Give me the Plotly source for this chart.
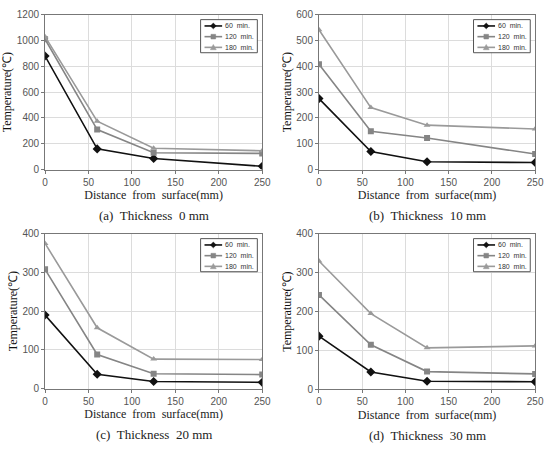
import plotly.graph_objects as go

distance = [0, 60, 125, 250]
series_names = ["60  min.", "120  min.", "180  min."]

a_60 = [880, 160, 85, 25]
a_120 = [1010, 310, 130, 125]
a_180 = [1030, 375, 165, 145]

b_60 = [275, 70, 30, 27]
b_120 = [408, 148, 122, 60]
b_180 = [542, 240, 172, 157]

c_60 = [190, 37, 18, 16]
c_120 = [308, 88, 38, 36]
c_180 = [375, 157, 76, 75]

d_60 = [137, 45, 21, 20]
d_120 = [243, 115, 46, 40]
d_180 = [330, 195, 107, 112]

captions = ["(a)  Thickness  0 mm", "(b)  Thickness  10 mm",
            "(c)  Thickness  20 mm", "(d)  Thickness  30 mm"]
y_ranges = [(0, 1200, 200), (0, 600, 100), (0, 400, 100), (0, 400, 100)]
x_ticks = [0, 50, 100, 150, 200, 250]

panels = [
    (a_60, a_120, a_180),
    (b_60, b_120, b_180),
    (c_60, c_120, c_180),
    (d_60, d_120, d_180),
]

W, H = 551, 450
# plot-area boxes in pixels: left, right, top, bottom
boxes = [(43, 265, 9, 168), (323, 544, 9, 168),
         (43, 265, 234, 393), (323, 544, 234, 394)]

colors = ["#111111", "#858585", "#9a9a9a"]
symbols = ["diamond", "square", "triangle-up"]

serif = "Liberation Serif, Times New Roman, serif"
sans = "Liberation Sans, Arial, sans-serif"


def px(x):
    return x / W


def py(y):
    return 1 - y / H


def marker_path(kind, cx, cy, s):
    if kind == "diamond":
        pts = [(cx, cy - s), (cx + s, cy), (cx, cy + s), (cx - s, cy)]
    elif kind == "square":
        s2 = s * 0.8
        pts = [(cx - s2, cy - s2), (cx + s2, cy - s2), (cx + s2, cy + s2), (cx - s2, cy + s2)]
    else:
        pts = [(cx, cy - s), (cx + s, cy + s * 0.8), (cx - s, cy + s * 0.8)]
    return "M " + " L ".join(f"{px(a):.5f},{py(b):.5f}" for a, b in pts) + " Z"


fig = go.Figure()
shapes = []
annotations = []

for i, (vals, box) in enumerate(zip(panels, boxes)):
    n = "" if i == 0 else str(i + 1)
    for j, v in enumerate(vals):
        fig.add_trace(go.Scatter(
            x=distance, y=v, mode="lines+markers", name=series_names[j],
            line=dict(color=colors[j], width=1.6),
            marker=dict(symbol=symbols[j], size=7 if j == 0 else 6, color=colors[j]),
            xaxis="x" + n, yaxis="y" + n, showlegend=False,
        ))
    l, r, t, b = box
    xd = [l / W, r / W]
    yd = [1 - b / H, 1 - t / H]
    y0, y1, dy = y_ranges[i]
    fig.update_layout(**{
        "xaxis" + n: dict(
            domain=xd, anchor="y" + n, range=[0, 250], tickvals=x_ticks,
            showgrid=True, gridcolor="#dcdcdc", gridwidth=1,
            showline=True, linecolor="#777777", linewidth=1, mirror=True,
            ticks="outside", ticklen=3, tickcolor="#777777",
            tickfont=dict(family=sans, size=10, color="#555555"),
            zeroline=False,
            title=dict(text="Distance  from  surface(mm)",
                       font=dict(family=serif, size=12, color="#222222"),
                       standoff=4),
        ),
        "yaxis" + n: dict(
            domain=yd, anchor="x" + n, range=[y0, y1], dtick=dy,
            showgrid=True, gridcolor="#dcdcdc", gridwidth=1,
            showline=True, linecolor="#777777", linewidth=1, mirror=True,
            ticks="outside", ticklen=3, tickcolor="#777777",
            tickfont=dict(family=sans, size=10, color="#555555"),
            zeroline=False,
            title=dict(text="Temperature(℃)",
                       font=dict(family=serif, size=12, color="#111111"),
                       standoff=2),
        ),
    })
    annotations.append(dict(
        x=(l + r) / 2 / W, y=1 - (b + 47) / H, xref="paper", yref="paper",
        text=captions[i], showarrow=False, xanchor="center", yanchor="middle",
        font=dict(family=serif, size=13, color="#222222"),
    ))

    # hand-drawn compact legend box inside the plot area
    lw_, lh_ = 58, 34
    lx1 = r - 5
    lx0 = lx1 - lw_
    ly0 = t + 5
    ly1 = ly0 + lh_
    shapes.append(dict(type="rect", xref="paper", yref="paper",
                       x0=px(lx0), x1=px(lx1), y0=py(ly1), y1=py(ly0),
                       line=dict(color="#555555", width=1), fillcolor="white"))
    for j in range(3):
        cy = ly0 + 6.5 + j * 11
        shapes.append(dict(type="line", xref="paper", yref="paper",
                           x0=px(lx0 + 4), x1=px(lx0 + 22), y0=py(cy), y1=py(cy),
                           line=dict(color=colors[j], width=1.6)))
        shapes.append(dict(type="path", xref="paper", yref="paper",
                           path=marker_path(symbols[j], lx0 + 13, cy, 3),
                           fillcolor=colors[j], line=dict(color=colors[j], width=0.5)))
        annotations.append(dict(
            x=px(lx0 + 23), y=py(cy), xref="paper", yref="paper",
            text=series_names[j], showarrow=False, xanchor="left", yanchor="middle",
            font=dict(family=sans, size=7, color="#333333"),
        ))

fig.update_layout(
    width=W, height=H, margin=dict(l=0, r=0, t=0, b=0),
    paper_bgcolor="white", plot_bgcolor="white", showlegend=False,
    shapes=shapes, annotations=annotations,
)

fig.write_html("out.html")
